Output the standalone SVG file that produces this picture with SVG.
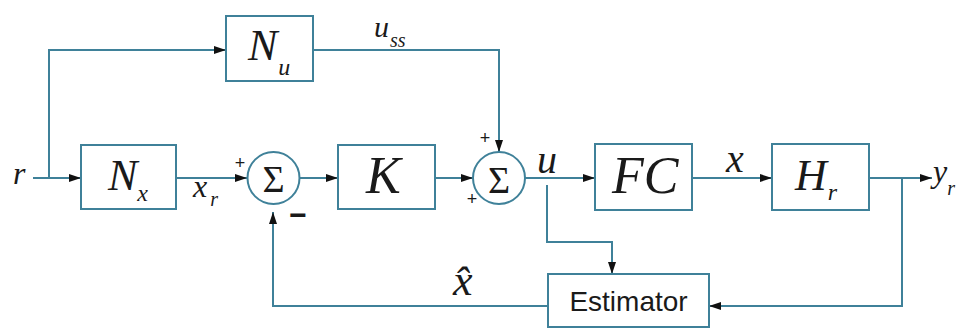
<svg xmlns="http://www.w3.org/2000/svg" width="961" height="328" viewBox="0 0 961 328">
<style>
.box{fill:none;stroke:#3f8199;stroke-width:2}
.ln{fill:none;stroke:#3f8199;stroke-width:2}
.m{fill:#1a1a1a}
.g{fill:#1a1a1a}
.s{font-family:'Liberation Sans',Arial,sans-serif;fill:#1a1a1a}
</style>
<defs>
<marker id="ar" viewBox="0 0 12 8" refX="12" refY="4" markerWidth="12" markerHeight="8" markerUnits="userSpaceOnUse" orient="auto">
<path d="M0,0 L12,4 L0,8 Z" fill="#111"/>
</marker>
</defs>
<rect width="961" height="328" fill="#fff"/>
<g id="connectors">
<path class="ln" d="M33,178 H81" marker-end="url(#ar)"/>
<path class="ln" d="M49,178 V50 H226" marker-end="url(#ar)"/>
<path class="ln" d="M176,178 H247" marker-end="url(#ar)"/>
<path class="ln" d="M300,178 H338" marker-end="url(#ar)"/>
<path class="ln" d="M435,178 H473" marker-end="url(#ar)"/>
<path class="ln" d="M313,50 H499 V152" marker-end="url(#ar)"/>
<path class="ln" d="M525,178 H595" marker-end="url(#ar)"/>
<path class="ln" d="M692,178 H772" marker-end="url(#ar)"/>
<path class="ln" d="M869,178 H932" marker-end="url(#ar)"/>
<path class="ln" d="M902,178 V306 H709" marker-end="url(#ar)"/>
<path class="ln" d="M547,185 V242 H612 V274" marker-end="url(#ar)"/>
<path class="ln" d="M548,306 H273 V212" marker-end="url(#ar)"/>
</g>
<g font-family="Liberation Serif, Times New Roman, serif" font-style="italic">
<g id="Nu">
<rect class="box" x="226" y="16" width="87" height="65"/>
<text class="m" x="248" y="60" font-size="44">N<tspan font-size="24" dx="1" dy="15">u</tspan></text>
</g>
<g id="Nx">
<rect class="box" x="81" y="145" width="95" height="64"/>
<text class="m" x="108" y="190" font-size="44">N<tspan font-size="24" dx="0" dy="11">x</tspan></text>
</g>
<g id="sum1">
<circle class="box" cx="273.5" cy="178" r="26"/>
<text class="g" x="273.5" y="192" font-size="38" font-style="normal" text-anchor="middle">Σ</text>
</g>
<g id="K">
<rect class="box" x="338" y="145" width="97" height="64"/>
<text class="m" x="366" y="193" font-size="52">K</text>
</g>
<g id="sum2">
<circle class="box" cx="499" cy="178" r="26"/>
<text class="g" x="499" y="193" font-size="38" font-style="normal" text-anchor="middle">Σ</text>
</g>
<g id="FC">
<rect class="box" x="595" y="144" width="97" height="66"/>
<text class="m" x="612" y="193" font-size="52">FC</text>
</g>
<g id="Hr">
<rect class="box" x="772" y="144" width="97" height="66"/>
<text class="m" x="795" y="190" font-size="44">H<tspan font-size="24" dx="1" dy="10">r</tspan></text>
</g>
<g id="labels">
<text class="m" x="13" y="184" font-size="32">r</text>
<text class="m" x="374" y="37" font-size="30">u<tspan font-size="20" dx="1" dy="10">ss</tspan></text>
<text class="m" x="193" y="197" font-size="32">x<tspan font-size="20" dx="3" dy="9">r</tspan></text>
<text class="m" x="537" y="173" font-size="40">u</text>
<text class="m" x="726" y="172" font-size="40">x</text>
<text class="m" x="933" y="182" font-size="32">y<tspan font-size="20" dx="0" dy="13">r</tspan></text>
<text class="m" x="453" y="295" font-size="44">x̂</text>
</g>
</g>
<g id="Estimator">
<rect class="box" x="548" y="274" width="161" height="53"/>
<text class="s" x="628.5" y="311" font-size="28" text-anchor="middle">Estimator</text>
</g>
<g id="signs">
<text class="s" x="240" y="169" font-size="18" text-anchor="middle">+</text>
<text class="s" x="485" y="144" font-size="18" text-anchor="middle">+</text>
<text class="s" x="472" y="205" font-size="18" text-anchor="middle">+</text>
<text class="s" x="298" y="225" font-size="30" font-weight="bold" text-anchor="middle">−</text>
</g>
</svg>
